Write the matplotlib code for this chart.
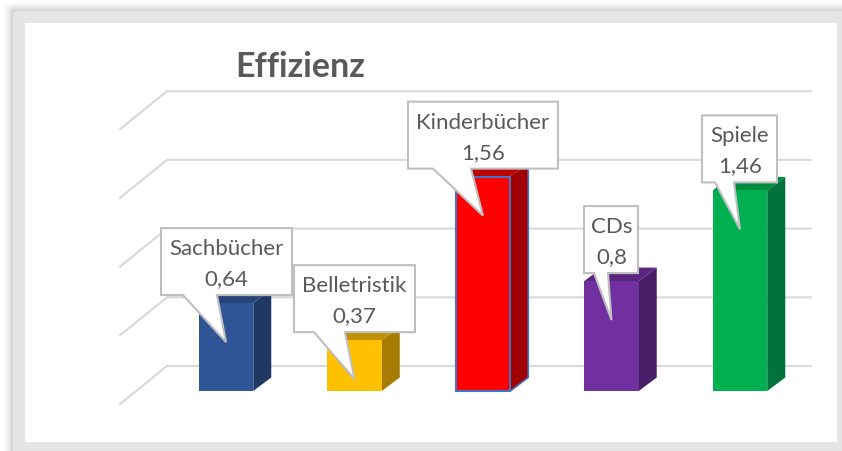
import matplotlib
matplotlib.use("Agg")
import matplotlib.pyplot as plt
from matplotlib.patches import Polygon, FancyBboxPatch, Rectangle

categories = ["Sachbücher", "Belletristik", "Kinderbücher", "CDs", "Spiele"]
values = [0.64, 0.37, 1.56, 0.80, 1.46]
value_labels = ["0,64", "0,37", "1,56", "0,8", "1,46"]
grid_values = [0, 0.5, 1.0, 1.5, 2.0]

front_colors = ["#2F5597", "#FFC000", "#FF0000", "#7030A0", "#00B050"]
side_colors = ["#1F3864", "#A67C00", "#A00000", "#481F67", "#00733C"]
top_colors = ["#264478", "#BF9000", "#C00000", "#5A2680", "#008A3E"]
edge_colors = ["none", "none", "#4472C4", "none", "none"]

# callout box half-extents in pixels, relative to the bar centre: left, right, tail base left, tail base right
box_left = [-65, -60.5, -75, -27.5, -38]
box_right = [66, 60.5, 75, 26.5, 37]
tail_left = [-43, -40.5, -50, -17.5, -25]
tail_right = [-9, -9.5, -12, -3.5, -6]

W, H = 842, 452
PX_X, PX_Y = 128.5, 137.4       # pixels per category step / per value unit
X0_PX, Y0_PX = 226, 392         # pixel position of category 0 / value 0
FONT = ["Lato", "DejaVu Sans"]
TXT = "#595959"
GRID = "#D9D9D9"
BORDER = "#BFBFBF"

fig = plt.figure(figsize=(W / 100, H / 100), dpi=100, facecolor="white")

# Chrome layer: gray frame with soft shadow, in pixel coordinates
bg = fig.add_axes([0, 0, 1, 1], zorder=0)
bg.set_xlim(0, W); bg.set_ylim(H, 0); bg.axis("off")
for g, a in zip([9, 7.5, 6, 4.5, 3, 1.5], [0.012, 0.018, 0.025, 0.03, 0.04, 0.05]):
    bg.add_patch(FancyBboxPatch((13 - g, 12 - g), W + 20, H + 20,
                                boxstyle="round,pad=0,rounding_size=5",
                                fc="#000000", ec="none", alpha=a))
bg.add_patch(FancyBboxPatch((13, 12), W + 20, H + 20,
                            boxstyle="round,pad=0,rounding_size=3",
                            fc="#E5E5E5", ec="none"))
bg.add_patch(Rectangle((25, 24), 812, 419, fc="white", ec="none"))

# Chart layer: data axes spanning the figure
ax = fig.add_axes([0, 0, 1, 1], zorder=1)
ax.patch.set_alpha(0)
ax.set_xlim(-X0_PX / PX_X, (W - X0_PX) / PX_X)
ax.set_ylim(-(H - Y0_PX) / PX_Y, Y0_PX / PX_Y)
ax.axis("off")

dx = 1 / PX_X
dy = 1 / PX_Y
bar_w = 54.5 * dx
depth_x, depth_y = 18 * dx, 13.5 * dy
back_dy = 25 * dy          # back wall baseline above front of bars
front_dy = -13 * dy        # front of floor below front of bars
wall_left = (167 - X0_PX) * dx
floor_left = (120 - X0_PX) * dx
wall_right = (811 - X0_PX) * dx

for g in grid_values:
    ax.plot([floor_left, wall_left, wall_right],
            [g + front_dy, g + back_dy, g + back_dy],
            color=GRID, lw=1.5, solid_joinstyle="miter", zorder=1)

xs = list(range(len(categories)))
for i, v in zip(xs, values):
    l, r = i - bar_w / 2, i + bar_w / 2
    ax.add_patch(Polygon([(r, 0), (r + depth_x, depth_y), (r + depth_x, v + depth_y), (r, v)],
                         fc=side_colors[i], ec="none", zorder=2))
    ax.add_patch(Polygon([(l, v), (r, v), (r + depth_x, v + depth_y), (l + depth_x, v + depth_y)],
                         fc=top_colors[i], ec="none", zorder=2))
    if edge_colors[i] != "none":
        ax.add_patch(Polygon([(r, 0), (r + depth_x, depth_y), (r + depth_x, v + depth_y),
                              (l + depth_x, v + depth_y), (l, v)],
                             fc="none", ec=edge_colors[i], lw=1.2, zorder=2.5))
ax.bar(xs, values, width=bar_w, color=front_colors, edgecolor=edge_colors, linewidth=1.5, zorder=3)

# Callouts, anchored on each bar's front top
for i, v in zip(xs, values):
    top, bot = v + 75 * dy, v + 8 * dy
    pts = [(i + box_left[i] * dx, top), (i + box_right[i] * dx, top),
           (i + box_right[i] * dx, bot), (i + tail_right[i] * dx, bot),
           (i, v - 39 * dy), (i + tail_left[i] * dx, bot),
           (i + box_left[i] * dx, bot)]
    ax.add_patch(Polygon(pts, closed=True, fc="white", ec=BORDER, lw=1.5,
                         joinstyle="miter", zorder=4))
    ax.text(i, v + 55 * dy, categories[i], ha="center", va="center", fontsize=16,
            color=TXT, family=FONT, zorder=5)
    ax.text(i, v + 25 * dy, value_labels[i], ha="center", va="center", fontsize=16,
            color=TXT, family=FONT, zorder=5)

fig.text(300 / W, 1 - 67 / H, "Effizienz", ha="center", va="center", fontsize=24.5,
         fontweight="bold", color=TXT, family=FONT, zorder=6)

fig.savefig("out.png", dpi=100)
